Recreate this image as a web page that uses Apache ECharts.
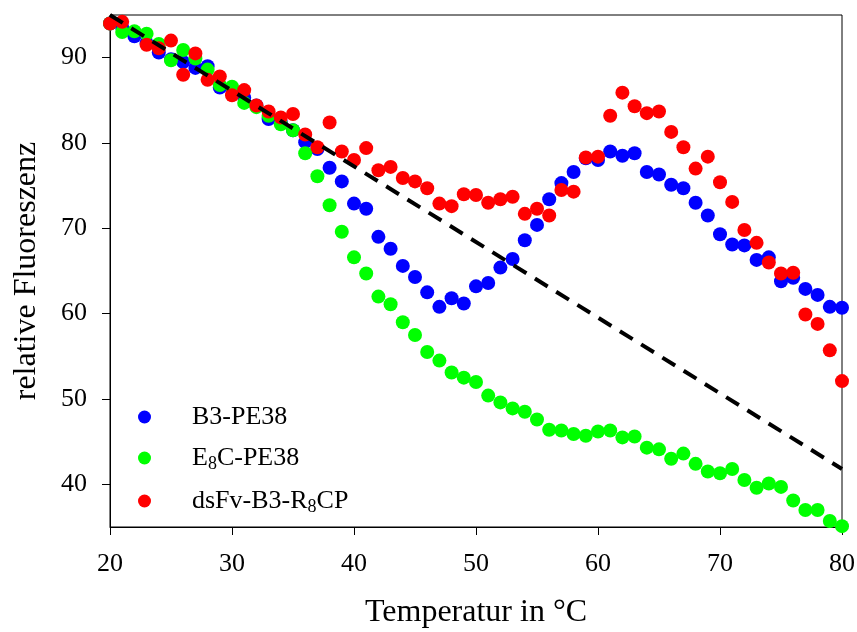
<!DOCTYPE html>
<html>
<head>
<meta charset="utf-8">
<script src="https://cdn.jsdelivr.net/npm/echarts@6/dist/echarts.min.js"></script>
<style>html,body{margin:0;padding:0;background:#fff;}#c{width:857px;height:632px;}</style>
</head>
<body>
<div id="c"></div>
<script>
var temps = [20,21,22,23,24,25,26,27,28,29,30,31,32,33,34,35,36,37,38,39,40,41,42,43,44,45,46,47,48,49,50,51,52,53,54,55,56,57,58,59,60,61,62,63,64,65,66,67,68,69,70,71,72,73,74,75,76,77,78,79,80];
var b3pe38 = [94.0,93.5,92.5,91.7,90.6,89.8,89.5,88.8,89.0,86.5,86.3,85.3,84.4,82.8,82.4,81.5,80.1,79.3,77.1,75.5,72.9,72.3,69.0,67.6,65.6,64.3,62.5,60.8,61.8,61.2,63.2,63.6,65.4,66.4,68.6,70.4,73.4,75.3,76.6,78.2,78.0,79.0,78.5,78.8,76.6,76.3,75.1,74.7,73.0,71.5,69.3,68.1,68.0,66.3,66.6,63.8,64.2,62.9,62.2,60.8,60.7];
var e8cpe38 = [94.0,93.0,93.1,92.8,91.6,89.7,90.9,89.9,88.6,86.8,86.6,84.7,84.2,83.2,82.2,81.5,78.8,76.1,72.7,69.6,66.6,64.7,62.0,61.1,59.0,57.5,55.5,54.5,53.1,52.5,52.0,50.4,49.6,48.9,48.5,47.6,46.4,46.3,45.9,45.7,46.2,46.3,45.5,45.6,44.3,44.1,43.0,43.6,42.4,41.5,41.3,41.8,40.5,39.6,40.1,39.7,38.1,37.0,37.0,35.7,35.1];
var dsfv = [94.0,94.2,null,91.5,91.1,92.0,88.0,90.5,87.4,87.8,85.6,86.2,84.4,83.7,83.0,83.4,81.0,79.5,82.4,79.0,78.0,79.4,76.8,77.2,75.9,75.5,74.7,72.9,72.6,74.0,73.9,73.0,73.4,73.7,71.7,72.3,71.5,74.5,74.3,78.3,78.4,83.2,85.9,84.3,83.5,83.7,81.3,79.5,77.0,78.4,75.4,73.1,69.8,68.3,66.0,64.7,64.8,59.9,58.8,55.7,52.1];
var trendX = [20, 80];
var trendY = [95.0, 41.8];
var seriesNames = ['B3-PE38', 'E8C-PE38', 'dsFv-B3-R8CP'];
var xTicks = [20,30,40,50,60,70,80];
var yTicks = [40,50,60,70,80,90];

function pairs(xs, ys){ return xs.map(function(x,i){ return [x, ys[i]]; }); }

var font = 'Liberation Serif';
var chart = echarts.init(document.getElementById('c'), null, {renderer:'canvas'});
var legendRich = {
  a: {fontFamily: font, fontSize: 26, color: '#000'},
  s: {fontFamily: font, fontSize: 18, color: '#000', padding: [12,0,0,0]}
};
chart.setOption({
  animation: false,
  backgroundColor: '#fff',
  grid: {left: 110, right: 15, top: 15, bottom: 105, show: true, borderColor: '#000', borderWidth: 1,
    containLabel: false, outerBoundsMode: 'none'},
  legend: {
    orient: 'vertical', left: 133, top: 399, itemWidth: 13, itemHeight: 13, itemGap: 15,
    icon: 'circle',
    textStyle: {fontFamily: font, fontSize: 26, color: '#000', padding: [0,0,0,36], rich: legendRich},
    data: seriesNames,
    formatter: function(n){
      if (n === 'E8C-PE38') return '{a|E}{s|8}{a|C-PE38}';
      if (n === 'dsFv-B3-R8CP') return '{a|dsFv-B3-R}{s|8}{a|CP}';
      return '{a|' + n + '}';
    }
  },
  xAxis: {
    type: 'value', min: 20, max: 80, interval: 10,
    name: 'Temperatur in °C', nameLocation: 'middle', nameGap: 70,
    nameTextStyle: {fontFamily: font, fontSize: 32, color: '#000'},
    axisLine: {show: true, lineStyle: {color: '#000', width: 1}},
    axisTick: {show: true, inside: false, length: 8, lineStyle: {color: '#000'}},
    axisLabel: {fontFamily: font, fontSize: 26, color: '#000', margin: 24,
      customValues: xTicks},
    splitLine: {show: false}
  },
  yAxis: {
    type: 'value', min: 35, max: 95,
    name: 'relative Fluoreszenz', nameLocation: 'middle', nameGap: 67,
    nameTextStyle: {fontFamily: font, fontSize: 32, color: '#000'},
    axisLine: {show: true, lineStyle: {color: '#000', width: 1}},
    axisTick: {show: true, length: 8, lineStyle: {color: '#000'}, customValues: yTicks},
    axisLabel: {fontFamily: font, fontSize: 26, color: '#000', margin: 23, customValues: yTicks},
    splitLine: {show: false}
  },
  series: [
    {name: seriesNames[0], type: 'scatter', symbol: 'circle', symbolSize: 14, itemStyle: {color: '#0000ff', opacity: 1}, data: pairs(temps, b3pe38)},
    {name: seriesNames[1], type: 'scatter', symbol: 'circle', symbolSize: 14, itemStyle: {color: '#00ff00', opacity: 1}, data: pairs(temps, e8cpe38)},
    {name: seriesNames[2], type: 'scatter', symbol: 'circle', symbolSize: 14, itemStyle: {color: '#ff0000', opacity: 1}, data: pairs(temps, dsfv)},
    {name: 'trend', type: 'line', showSymbol: false, symbol: 'none', data: pairs(trendX, trendY),
      lineStyle: {color: '#000', width: 4, type: [15, 10]}, z: 5}
  ]
});
</script>
</body>
</html>
